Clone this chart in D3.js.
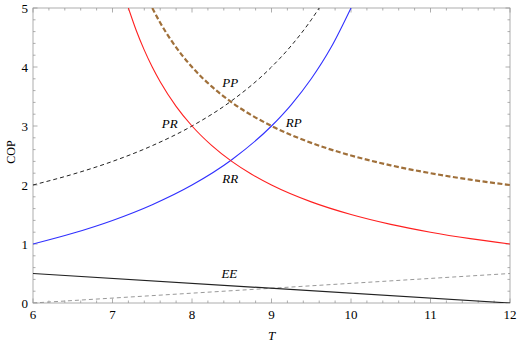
<!DOCTYPE html>
<html>
<head>
<meta charset="utf-8">
<script src="https://cdn.jsdelivr.net/npm/d3@7"></script>
<style>
  body { margin: 0; background: #fff; }
  svg text { font-family: "Liberation Serif", "DejaVu Serif", serif; }
</style>
</head>
<body>
<svg id="chart" width="518" height="345"></svg>
<script>
// values
const redT   = [7.2, 7.3, 7.4, 7.5, 7.6, 7.8, 8, 8.25, 8.5, 8.75, 9, 9.5, 10, 10.5, 11, 11.5, 12];
const redCOP = [5, 4.615, 4.286, 4, 3.75, 3.333, 3, 2.667, 2.4, 2.182, 2, 1.714, 1.5, 1.333, 1.2, 1.091, 1];

const blueT   = [6, 6.5, 7, 7.5, 8, 8.5, 9, 9.25, 9.5, 9.75, 10];
const blueCOP = [1, 1.182, 1.4, 1.667, 2, 2.429, 3, 3.364, 3.8, 4.333, 5];

const blackDashT   = [6, 6.5, 7, 7.5, 8, 8.5, 9, 9.25, 9.5, 9.6];
const blackDashCOP = [2, 2.182, 2.4, 2.667, 3, 3.429, 4, 4.364, 4.8, 5];

const brownT   = [7.5, 7.6, 7.75, 8, 8.25, 8.5, 9, 9.5, 10, 10.5, 11, 11.5, 12];
const brownCOP = [5, 4.75, 4.429, 4, 3.667, 3.4, 3, 2.714, 2.5, 2.333, 2.2, 2.091, 2];

const eeSolidT = [6, 12], eeSolidCOP = [0.5, 0];
const eeDashT  = [6, 12], eeDashCOP  = [0, 0.5];

const xTicks = [6, 7, 8, 9, 10, 11, 12];
const yTicks = [0, 1, 2, 3, 4, 5];

const curveLabels = [
  { text: 'PP', t: 8.48, cop: 3.73 },
  { text: 'PR', t: 7.72, cop: 3.03 },
  { text: 'RP', t: 9.28, cop: 3.05 },
  { text: 'RR', t: 8.48, cop: 2.1 },
  { text: 'EE', t: 8.47, cop: 0.49 }
];

const svg = d3.select('#chart');
const padL = 33, padR = 510, padT = 8, padB = 303;

const x = d3.scaleLinear().domain([6, 12]).range([padL, padR]);
const y = d3.scaleLinear().domain([0, 5]).range([padB, padT]);

svg.append('clipPath').attr('id', 'clip')
  .append('rect').attr('x', padL).attr('y', padT)
  .attr('width', padR - padL).attr('height', padB - padT);

const frameColor = '#999';
const xMinor = d3.range(6, 12.001, 0.2);
const yMinor = d3.range(0, 5.001, 0.2);

// ticks on all four sides, pointing inward
const g = svg.append('g');
xMinor.forEach(v => {
  const major = xTicks.some(t => Math.abs(t - v) < 1e-6);
  const len = major ? 4.5 : 2.5;
  g.append('line').attr('x1', x(v)).attr('x2', x(v)).attr('y1', padB).attr('y2', padB - len);
  g.append('line').attr('x1', x(v)).attr('x2', x(v)).attr('y1', padT).attr('y2', padT + len);
});
yMinor.forEach(v => {
  const major = yTicks.some(t => Math.abs(t - v) < 1e-6);
  const len = major ? 4.5 : 2.5;
  g.append('line').attr('x1', padL).attr('x2', padL + len).attr('y1', y(v)).attr('y2', y(v));
  g.append('line').attr('x1', padR).attr('x2', padR - len).attr('y1', y(v)).attr('y2', y(v));
});
g.selectAll('line').attr('stroke', frameColor).attr('stroke-width', 0.8);

svg.append('rect').attr('x', padL).attr('y', padT)
  .attr('width', padR - padL).attr('height', padB - padT)
  .attr('fill', 'none').attr('stroke', frameColor).attr('stroke-width', 0.8);

// tick labels
svg.selectAll('.xt').data(xTicks).enter().append('text')
  .attr('x', d => x(d)).attr('y', padB + 15.5)
  .attr('text-anchor', 'middle').attr('font-size', 13).text(d => d);
svg.selectAll('.yt').data(yTicks).enter().append('text')
  .attr('x', padL - 5).attr('y', d => y(d) + 4.5)
  .attr('text-anchor', 'end').attr('font-size', 13).text(d => d);

svg.append('text').attr('x', x(9)).attr('y', 340)
  .attr('text-anchor', 'middle').attr('font-size', 13).attr('font-style', 'italic').text('T');
svg.append('text').attr('transform', `translate(15,152) rotate(-90)`)
  .attr('text-anchor', 'middle').attr('font-size', 12).text('COP');

const line = d3.line().x(d => x(d[0])).y(d => y(d[1])).curve(d3.curveMonotoneX);
const plot = svg.append('g').attr('clip-path', 'url(#clip)');

function drawSeries(ts, vals, color, width, dash) {
  plot.append('path')
    .datum(d3.zip(ts, vals))
    .attr('d', line)
    .attr('fill', 'none')
    .attr('stroke', color)
    .attr('stroke-width', width)
    .attr('stroke-dasharray', dash || null);
}

drawSeries(eeDashT, eeDashCOP, '#999', 1, '4,3');
drawSeries(eeSolidT, eeSolidCOP, '#222', 1.2);
drawSeries(blackDashT, blackDashCOP, '#222', 1, '4,3');
drawSeries(brownT, brownCOP, '#a0703a', 2.2, '5,2.5');
drawSeries(blueT, blueCOP, '#3030ff', 1.1);
drawSeries(redT, redCOP, '#ff2020', 1.1);

svg.selectAll('.cl').data(curveLabels).enter().append('text')
  .attr('x', d => x(d.t)).attr('y', d => y(d.cop) + 4)
  .attr('text-anchor', 'middle').attr('font-size', 13).attr('font-style', 'italic')
  .text(d => d.text);
</script>
</body>
</html>
